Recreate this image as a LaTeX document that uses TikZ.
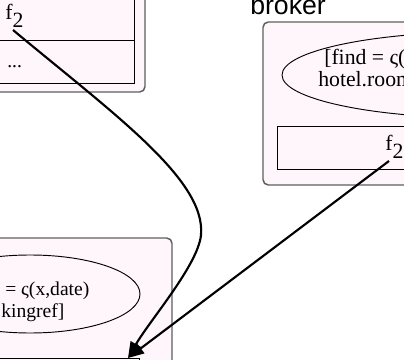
\documentclass[tikz,border=0pt]{standalone}
\usepackage{fontspec}
\setmainfont{Liberation Serif}
\newfontfamily\lblfont{Liberation Sans}
\usetikzlibrary{arrows.meta,shapes.geometric}
\definecolor{boxpink}{RGB}{255,246,251}
\definecolor{boxedge}{RGB}{95,95,95}

\begin{document}
\begin{tikzpicture}[x=0.75pt,y=-0.75pt,
    outer/.style={draw=boxedge,fill=boxpink,line width=1.1pt,rounded corners=4pt},
    cell/.style={draw=black,fill=boxpink,line width=0.7pt},
    oval/.style={draw=black,fill=boxpink,line width=0.7pt,ellipse,inner sep=0pt},
    txt/.style={font=\fontsize{14.7}{17}\selectfont,inner sep=0pt,anchor=base west},
    bigtxt/.style={txt,font=\fontsize{16.3}{19}\selectfont},
    link/.style={line width=1.6pt,-{Triangle[length=12pt,width=9pt]}}]
    \path[use as bounding box](0,0)rectangle(404,360);
    \clip(0,0)rectangle(404,360);

    \draw[outer](-20,-20)rectangle(145,92);
    \draw[cell](-10,-10)rectangle(134,83);
    \draw[cell](-10,40)--(134,40);
    \node[bigtxt](fA) at(5,20){f\raisebox{-5.5pt}{2}};
    \node[txt](dotsA) at(7,68){...};
    \coordinate (fportA) at(13,30);

    \node[font=\fontsize{20}{24}\selectfont\lblfont,inner sep=0pt,anchor=base west](brokerlbl) at(250,15){broker};
    \draw[outer](263,22)rectangle(440,185);
    \node[oval,minimum width=300pt,minimum height=64.5pt](findoval) at(482,75){};
    \node[bigtxt](findA) at(324,65){[find = ς(};
    \node[bigtxt](findB) at(318,87){hotel.room};
    \draw[cell](277,126)rectangle(430,169);
    \node[bigtxt](fB) at(385,151){f\raisebox{-5.5pt}{2}};
    \coordinate (fportB) at(389,161);

    \draw[outer](-20,238)rectangle(172,400);
    \node[oval,minimum width=165pt,minimum height=58.5pt](bookoval) at(30,294){};
    \node[txt](bookA) at(5,295){= ς(x,date)};
    \node[txt](bookB) at(1,317){kingref]};
    \draw[cell](-10,358.5)rectangle(139,400);
    \coordinate (slotC) at(128,358);

    \draw[link](fportA)..controls(115,115)and(206,180)..(201,235)..controls(198,265)and(150,320)..(slotC);
    \draw[link](fportB)--(slotC);
\end{tikzpicture}
\end{document}
